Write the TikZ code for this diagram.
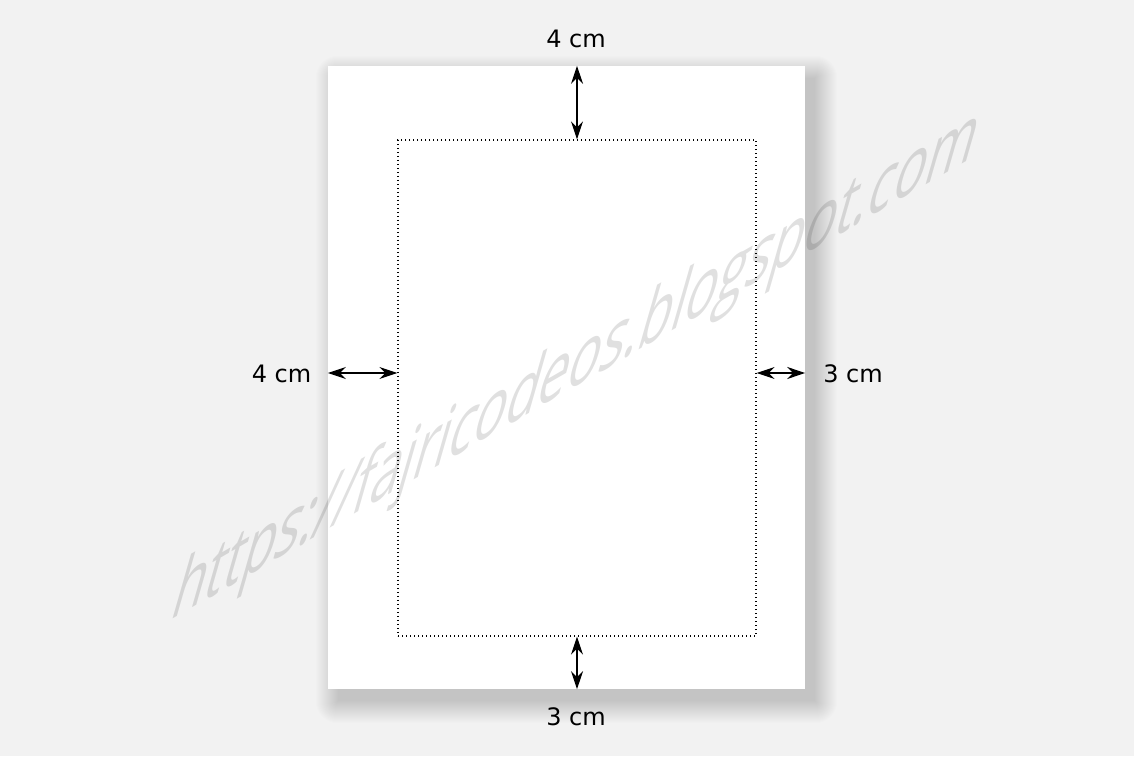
\documentclass[tikz,border=0pt]{standalone}
\usepackage{fontspec}
\setmainfont{DejaVu Sans}
\newfontfamily\wmfont{Open Sans}
\usetikzlibrary{arrows.meta,calc}
\definecolor{bg}{HTML}{F2F2F2}
\begin{document}
\begin{tikzpicture}[x=1pt,y=1pt,
  tipx/.tip={Stealth[length=18pt,width=12pt,inset=6pt]},
  dim/.style={tipx-tipx, line width=1.2pt},
  lbl/.style={font=\fontsize{24}{28}\selectfont, inner sep=0pt},
  pagebox/.style={inner sep=0pt, minimum width=477pt, minimum height=623pt},
  marginbox/.style={draw, line width=1.3pt, dash pattern=on 1.3pt off 2.7pt, inner sep=0pt, minimum width=358pt, minimum height=496pt}]
\useasboundingbox (0,0) rectangle (1134,756);
\fill[bg] (0,0) rectangle (1134,756);
\node[pagebox] (page) at (566.5,378.5) {};
\foreach \r in {0,1,...,22}{
  \fill[black, opacity=0.009, rounded corners=\r pt]
    ($(page.south west)+(10-\r,-12-\r)$) rectangle ($(page.north east)+(10+\r,-12+\r)$);
}
\fill[white] (page.south west) rectangle (page.north east);
\node[marginbox] (inner) at (577,368) {};
\coordinate (mid) at (0,383);
\draw[dim] (inner.north |- page.north) -- (inner.north);
\draw[dim] (inner.south) -- (inner.south |- page.south);
\draw[dim] (page.west |- mid) -- (inner.west |- mid);
\draw[dim] (inner.east |- mid) -- (page.east |- mid);
\node[lbl] (lt) at (576,717.5) {4 cm};
\node[lbl] (lb) at (576,39) {3 cm};
\node[lbl] (ll) at (281.5,382) {4 cm};
\node[lbl] (lr) at (853,382) {3 cm};
\begin{scope}[shift={(168,134)}, cm={0.866,0.5,0.400,1.394,(0,0)}]
\node[transform shape, anchor=base west, inner sep=0pt, text=black, text opacity=0.12] (wm) at (0,0) {\resizebox{926pt}{!}{\wmfont https://fajricodeos.blogspot.com}};
\end{scope}
\end{tikzpicture}
\end{document}
